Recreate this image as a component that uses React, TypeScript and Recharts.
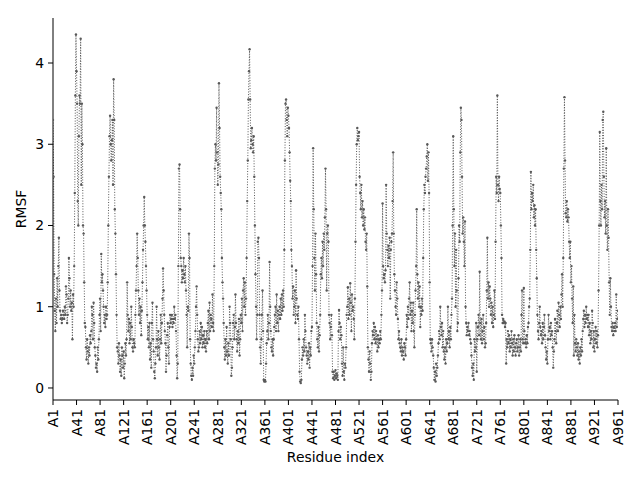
import { LineChart, Line, XAxis, YAxis } from 'recharts'

// RMSF per residue in chunks of 120 residues
const rmsfA1 = [
  3.3, 2.6, 1.4, 0.95, 0.7, 1.1, 0.8, 1.35, 1.0, 1.5,
  1.85, 1.2, 0.95, 0.85, 0.9, 0.8, 0.85, 0.95, 0.9, 0.85,
  1.0, 0.9, 1.25, 1.15, 0.8, 0.9, 1.1, 1.6, 1.35, 1.0,
  1.2, 0.95, 1.05, 0.6, 1.15, 1.0, 1.5, 2.4, 3.6, 4.35,
  3.9, 3.5, 2.3, 2.0, 3.1, 3.6, 3.5, 4.3, 2.5, 3.5,
  3.0, 2.0, 1.9, 1.3, 0.8, 0.75, 0.5, 0.35, 0.6, 0.45,
  0.3, 0.5, 0.4, 0.65, 0.55, 0.7, 1.0, 0.9, 0.6, 1.05,
  0.8, 0.5, 0.4, 0.25, 0.3, 0.2, 0.5, 0.35, 0.6, 0.9,
  1.1, 0.7, 1.65, 1.3, 1.4, 1.2, 1.0, 0.8, 0.9, 0.75,
  1.0, 0.85, 0.9, 1.3, 2.0, 2.6, 3.1, 3.35, 3.0, 2.8,
  3.05, 3.3, 2.5, 3.8, 3.3, 2.2, 1.9, 1.4, 0.9, 0.5,
  0.45, 0.3, 0.55, 0.4, 0.2, 0.35, 0.15, 0.5, 0.4, 0.25,
]

const rmsfA121 = [
  0.45, 0.12, 0.3, 0.55, 0.4, 0.6, 1.3, 0.9, 0.7, 0.85,
  0.55, 0.8, 0.6, 1.0, 0.75, 0.5, 0.45, 0.6, 0.55, 0.5,
  0.9, 1.2, 1.5, 1.9, 1.6, 1.2, 0.9, 1.1, 0.8, 1.0,
  0.65, 0.95, 1.3, 1.7, 2.0, 2.35, 2.0, 1.8, 1.5, 1.2,
  0.9, 0.6, 0.75, 0.5, 0.8, 0.35, 0.55, 0.25, 0.8, 1.05,
  0.6, 0.45, 0.2, 0.12, 0.3, 0.5, 1.0, 0.6, 0.4, 0.7,
  0.5, 0.35, 0.6, 0.9, 0.55, 0.8, 1.1, 1.47, 1.2, 0.9,
  0.7, 0.55, 0.2, 0.4, 0.65, 0.8, 0.5, 0.3, 0.75, 0.9,
  0.8, 0.85, 0.9, 0.75, 0.85, 0.8, 1.0, 0.85, 0.9, 0.7,
  0.4, 0.12, 0.3, 1.5, 2.7, 2.75, 2.2, 1.6, 1.5, 1.3,
  1.45, 1.35, 1.6, 1.4, 1.3, 1.5, 1.2, 0.9, 0.5, 1.0,
  0.95, 1.9, 1.6, 0.6, 0.3, 0.15, 0.1, 0.25, 0.15, 0.4,
]

const rmsfA241 = [
  0.3, 0.5, 0.7, 1.0, 1.25, 0.9, 0.6, 0.45, 0.5, 0.7,
  0.55, 0.8, 0.6, 0.75, 0.5, 0.65, 0.55, 0.7, 0.5, 0.6,
  0.45, 0.7, 0.55, 0.8, 0.95, 0.6, 1.05, 0.7, 0.9, 0.85,
  0.75, 1.15, 0.8, 0.7, 1.5, 2.7, 3.0, 2.8, 3.45, 2.9,
  2.5, 2.75, 3.75, 3.2, 2.6, 2.4, 2.2, 1.6, 1.3, 1.1,
  0.8, 0.5, 0.35, 0.6, 0.4, 0.75, 0.45, 0.3, 0.55, 0.4,
  1.0, 0.8, 0.6, 0.15, 0.25, 0.5, 0.8, 0.9, 0.6, 0.75,
  1.15, 0.8, 0.6, 0.45, 0.7, 0.55, 0.85, 0.4, 0.6, 0.9,
  0.8, 1.1, 0.7, 1.2, 1.35, 1.0, 1.3, 0.9, 1.1, 1.6,
  2.3, 2.8, 3.55, 3.9, 4.17, 3.55, 2.95, 3.05, 3.2, 3.0,
  2.9, 3.1, 2.6, 2.0, 1.4, 1.0, 0.6, 0.9, 1.8, 1.85,
  1.6, 0.9, 0.5, 0.3, 0.6, 0.9, 1.2, 0.7, 0.1, 0.08,
]

const rmsfA361 = [
  0.1, 0.08, 0.3, 0.55, 0.7, 0.9, 0.6, 0.8, 1.55, 1.0,
  0.7, 0.5, 0.45, 0.6, 0.4, 0.6, 0.75, 0.9, 1.0, 0.7,
  1.15, 0.8, 0.95, 0.7, 0.9, 1.0, 0.85, 1.1, 0.9, 1.15,
  0.95, 1.2, 1.0, 1.7, 2.8, 3.5, 3.55, 3.3, 3.1, 3.45,
  3.35, 3.2, 2.9, 2.55, 2.3, 1.7, 1.5, 1.1, 1.25, 0.9,
  1.0, 1.2, 0.8, 1.45, 1.1, 0.9, 0.85, 1.0, 0.6, 0.2,
  0.08, 0.06, 0.1, 0.35, 0.5, 0.4, 0.6, 0.45, 0.9, 0.7,
  0.5, 0.4, 0.3, 0.45, 0.35, 0.55, 0.25, 0.5, 0.4, 0.7,
  0.75, 1.5, 2.95, 2.2, 1.6, 1.2, 1.9, 1.4, 0.8, 0.6,
  0.5, 0.75, 0.45, 0.65, 0.9, 1.4, 1.6, 1.35, 1.8, 1.5,
  1.9, 1.7, 2.1, 2.7, 2.2, 1.2, 1.9, 2.0, 1.8, 0.9,
  0.8, 0.6, 0.75, 0.9, 0.65, 0.2, 0.12, 0.2, 0.1, 0.15,
]

const rmsfA481 = [
  0.22, 0.12, 0.18, 0.15, 0.1, 0.7, 0.96, 0.8, 0.6, 0.75,
  0.65, 0.3, 0.15, 0.5, 0.2, 0.1, 0.3, 0.25, 0.5, 0.9,
  1.0, 1.24, 0.85, 1.1, 0.9, 1.29, 1.05, 0.7, 1.15, 0.95,
  1.0, 0.85, 0.6, 1.1, 1.8, 2.5, 3.0, 3.2, 3.05, 3.1,
  3.15, 2.6, 2.4, 2.2, 2.5, 2.1, 2.3, 2.0, 2.2, 1.95,
  2.1, 1.8, 1.7, 1.9, 1.25, 0.5, 0.35, 0.2, 0.45, 0.3,
  0.1, 0.2, 0.55, 0.7, 0.65, 0.8, 0.6, 0.75, 0.55, 0.7,
  0.6, 0.45, 0.65, 0.5, 0.6, 0.55, 0.7, 0.6, 0.9, 1.2,
  2.27, 1.5, 1.35, 1.4, 1.3, 1.45, 2.5, 1.9, 1.7, 1.5,
  1.75, 1.6, 1.85, 1.1, 1.7, 1.8, 1.9, 2.3, 2.9, 1.9,
  1.4, 1.2, 1.0, 0.9, 1.3, 1.1, 0.85, 0.6, 0.7, 0.55,
  0.5, 0.45, 0.6, 0.4, 0.5, 0.45, 0.35, 0.55, 0.5, 0.4,
]

const rmsfA601 = [
  0.6, 0.9, 0.75, 1.0, 0.85, 1.1, 1.3, 0.9, 1.05, 0.7,
  0.95, 0.8, 1.05, 0.7, 0.5, 0.9, 1.2, 1.5, 2.2, 1.4,
  1.1, 1.3, 1.0, 1.25, 0.75, 1.0, 0.9, 1.1, 0.95, 1.6,
  2.2, 2.5, 2.4, 2.6, 2.7, 2.85, 3.0, 2.55, 2.9, 2.4,
  1.3, 0.6, 0.55, 0.45, 0.6, 0.5, 0.4, 0.25, 0.1, 0.2,
  0.08, 0.3, 0.15, 0.25, 0.4, 0.55, 0.7, 0.6, 1.0, 0.75,
  0.65, 0.8, 0.5, 0.7, 0.45, 0.35, 0.5, 0.3, 0.6, 0.45,
  0.55, 1.0, 0.6, 0.7, 0.5, 0.75, 0.6, 0.9, 1.1, 2.0,
  3.1, 2.2, 1.5, 1.9, 1.0, 1.7, 1.2, 0.7, 0.8, 1.35,
  2.0, 1.8, 2.9, 3.45, 3.3, 2.6, 1.9, 2.1, 1.8, 1.5,
  2.05, 1.0, 0.8, 0.65, 0.75, 0.7, 0.8, 0.65, 0.7, 0.6,
  0.55, 0.4, 0.25, 0.15, 0.3, 0.1, 0.6, 0.45, 0.5, 0.8,
]

const rmsfA721 = [
  0.2, 0.6, 0.75, 0.9, 0.65, 1.43, 0.8, 0.6, 0.85, 0.55,
  0.7, 0.9, 0.6, 0.75, 0.5, 0.55, 0.8, 1.2, 1.85, 1.1,
  1.3, 1.0, 1.25, 1.1, 0.9, 1.05, 0.8, 1.0, 0.75, 0.9,
  1.2, 0.85, 1.8, 2.6, 2.4, 3.6, 2.5, 2.3, 2.6, 2.45,
  2.4, 2.0, 1.6, 0.9, 0.8, 0.85, 0.8, 0.82, 0.75, 0.8,
  0.3, 0.6, 0.5, 0.7, 0.55, 0.65, 0.45, 0.6, 0.5, 0.7,
  0.55, 0.4, 0.6, 0.45, 0.65, 0.5, 0.4, 0.55, 0.6, 0.45,
  0.5, 0.65, 0.4, 0.5, 0.6, 0.45, 0.9, 1.2, 0.6, 0.55,
  1.23, 0.7, 0.55, 0.6, 0.5, 0.65, 0.55, 0.75, 0.8, 1.0,
  1.1, 1.7, 2.66, 2.2, 2.4, 2.3, 2.5, 2.1, 2.25, 2.0,
  2.2, 1.7, 1.35, 0.9, 0.7, 0.6, 0.8, 1.0, 0.75, 0.65,
  0.7, 0.55, 0.8, 0.6, 0.75, 0.9, 0.65, 0.5, 0.35, 0.45,
]

const rmsfA841 = [
  0.3, 0.6, 0.9, 0.7, 0.75, 0.6, 0.8, 0.65, 0.7, 0.5,
  0.25, 0.45, 0.6, 0.85, 0.7, 0.55, 0.8, 0.95, 0.7, 1.05,
  0.9, 0.75, 1.0, 0.85, 1.15, 1.4, 1.0, 1.6, 2.7, 3.58,
  2.8, 2.15, 2.1, 2.3, 2.05, 2.2, 2.1, 1.8, 1.6, 1.8,
  1.3, 1.5, 1.1, 0.8, 1.25, 0.4, 0.9, 0.55, 0.45, 0.6,
  0.5, 0.4, 0.55, 0.35, 0.45, 0.3, 0.5, 0.4, 0.6, 0.45,
  0.7, 0.85, 0.95, 0.75, 0.9, 0.8, 1.0, 0.85, 0.9, 0.75,
  0.9, 0.65, 0.8, 0.55, 0.7, 0.6, 0.95, 0.8, 0.5, 0.7,
  0.45, 0.6, 0.75, 0.55, 0.7, 0.5, 0.65, 1.2, 2.0, 3.15,
  2.3, 2.0, 2.5, 2.2, 3.3, 3.4, 2.6, 2.1, 2.3, 1.9,
  2.95, 2.0, 1.7, 2.2, 1.85, 1.3, 0.9, 1.35, 1.0, 0.75,
  0.7, 0.8, 0.65, 0.75, 0.7, 0.8, 0.7, 1.15, 0.75, 0.85,
  0.95,
]

const residueTicks = [1, 41, 81, 121, 161, 201, 241, 281, 321, 361, 401, 441, 481, 521, 561, 601, 641, 681, 721, 761, 801, 841, 881, 921, 961]
const rmsfTicks = [0, 1, 2, 3, 4]

const data = [
  ...rmsfA1, ...rmsfA121, ...rmsfA241, ...rmsfA361,
  ...rmsfA481, ...rmsfA601, ...rmsfA721, ...rmsfA841,
].map((v, i) => ({ residue: i + 1, rmsf: v }))

const FONT = 'DejaVu Sans, sans-serif'
const GREY = '#585858'

function ResidueTick({ x, y, payload }: any) {
  return (
    <text
      x={x}
      y={y}
      transform={`rotate(-90 ${x} ${y})`}
      textAnchor="end"
      dominantBaseline="central"
      fontSize={13.9}
      fontFamily={FONT}
      fill="#000"
    >
      {`A${payload.value}`}
    </text>
  )
}

export default function App() {
  return (
    <div style={{ width: 640, height: 480, background: '#fff' }}>
      <style>{'body{margin:0}'}</style>
      <LineChart width={640} height={480} data={data} margin={{ top: 18, right: 22, bottom: 0, left: 0 }}>
        <XAxis
          dataKey="residue"
          type="number"
          domain={[1, 961]}
          ticks={residueTicks}
          interval={0}
          allowDataOverflow
          height={80}
          tickSize={5}
          tickMargin={4}
          tick={<ResidueTick />}
          axisLine={{ stroke: '#000' }}
          tickLine={{ stroke: '#000' }}
          label={(p: any) => (
            <text
              x={p.viewBox.x + p.viewBox.width / 2}
              y={457}
              textAnchor="middle"
              dominantBaseline="central"
              fontSize={13.9}
              fontFamily={FONT}
              fill="#000"
            >
              Residue index
            </text>
          )}
        />
        <XAxis xAxisId="top" orientation="top" dataKey="residue" type="number" domain={[1, 961]} height={0} tick={false} tickLine={false} axisLine={{ stroke: '#000' }} />
        <YAxis
          type="number"
          domain={[-0.148, 4.554]}
          ticks={rmsfTicks}
          allowDataOverflow
          width={53}
          tickSize={5}
          tickMargin={4}
          tick={{ fontSize: 13.9, fontFamily: FONT, fill: '#000' }}
          axisLine={{ stroke: '#000' }}
          tickLine={{ stroke: '#000' }}
          label={(p: any) => (
            <text
              x={21}
              y={p.viewBox.y + p.viewBox.height / 2}
              transform={`rotate(-90 21 ${p.viewBox.y + p.viewBox.height / 2})`}
              textAnchor="middle"
              dominantBaseline="central"
              fontSize={13.9}
              fontFamily={FONT}
              fill="#000"
            >
              RMSF
            </text>
          )}
        />
        <YAxis yAxisId="right" orientation="right" width={0} domain={[-0.148, 4.554]} tick={false} tickLine={false} axisLine={{ stroke: '#000' }} />
        <Line
          type="linear"
          dataKey="rmsf"
          stroke={GREY}
          strokeWidth={1}
          strokeDasharray="1 1.65"
          dot={{ r: 1.2, fill: GREY, stroke: 'none' }}
          isAnimationActive={false}
        />
      </LineChart>
    </div>
  )
}
